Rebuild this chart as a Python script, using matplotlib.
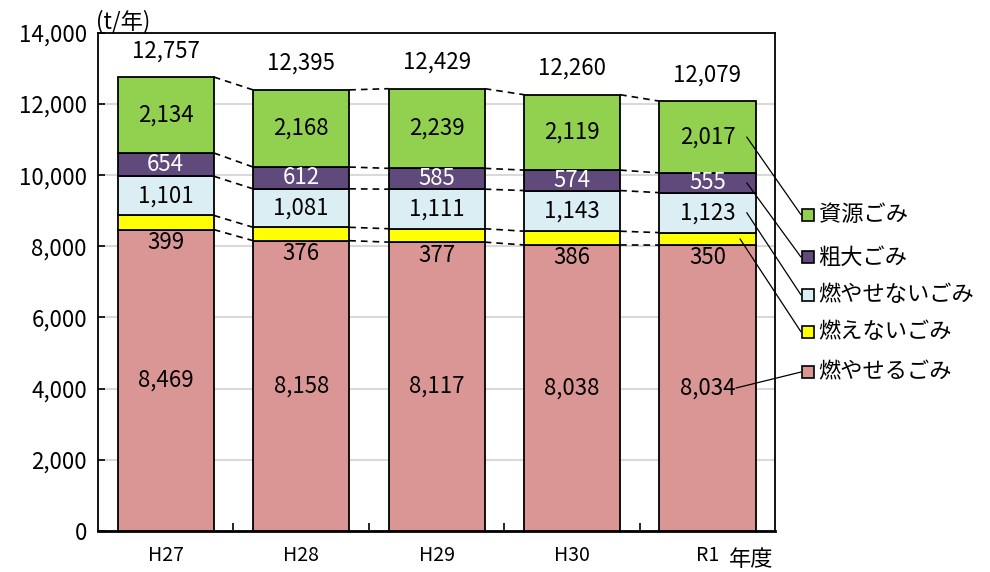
import numpy as np
import matplotlib.pyplot as plt

plt.rcParams['font.family'] = ['Noto Sans CJK JP', 'DejaVu Sans']

# data (t/年)
years = ['H27', 'H28', 'H29', 'H30', 'R1']
moyaseru = [8469, 8158, 8117, 8038, 8034]     # 燃やせるごみ
moenai = [399, 376, 377, 386, 350]            # 燃えないごみ
moyasenai = [1101, 1081, 1111, 1143, 1123]    # 燃やせないごみ
sodai = [654, 612, 585, 574, 555]             # 粗大ごみ
shigen = [2134, 2168, 2239, 2119, 2017]       # 資源ごみ

names = ['燃やせるごみ', '燃えないごみ', '燃やせないごみ', '粗大ごみ', '資源ごみ']
colors = ['#D99694', '#FFFF00', '#DAEEF3', '#604A7B', '#92D050']
series = [moyaseru, moenai, moyasenai, sodai, shigen]

fig = plt.figure(figsize=(9.9, 5.72), dpi=100)
ax = fig.add_axes([0.099, 0.0717, 0.684, 0.871])

x = np.arange(len(years))
w = 0.71
bottom = np.zeros(len(years))
tops = []
for vals, c in zip(series, colors):
    v = np.array(vals)
    ax.bar(x, v, w, bottom=bottom, color=c, edgecolor='black', linewidth=1.3, zorder=3)
    bottom = bottom + v
    tops.append(bottom.copy())

# dashed connectors between bars
for lev in tops:
    for i in range(len(years) - 1):
        ax.plot([i + w / 2, i + 1 - w / 2], [lev[i], lev[i + 1]], ls=(0, (4, 3)),
                color='black', lw=1.2, zorder=2)

# value labels
fs = 16
base = np.zeros(len(years))
label_pos = []
for k, vals in enumerate(series):
    v = np.array(vals)
    ys = []
    for i in range(len(years)):
        txt = f'{vals[i]:,}'
        if k == 1:
            ax.annotate(txt, (i, base[i]), xytext=(0, -1), textcoords='offset points',
                        ha='center', va='top', fontsize=fs, zorder=4)
        else:
            ax.text(i, base[i] + v[i] / 2, txt, ha='center', va='center', fontsize=fs,
                    color='white' if k == 3 else 'black', zorder=4)
        ys.append(base[i] + v[i] / 2)
    label_pos.append(ys)
    base = base + v

total = tops[-1]
for i in range(len(years)):
    ax.annotate(f'{int(total[i]):,}', (i, total[i]), xytext=(0, 19), textcoords='offset points',
                ha='center', va='center', fontsize=fs)

# legend with leader lines
leg_y = [0.319, 0.400, 0.474, 0.550, 0.635]
start_dx = [0.21, 0.24, 0.29, 0.29, 0.29]
last = len(years) - 1
for k in range(len(series)):
    ax.plot([1.049], [leg_y[k]], marker='s', ms=9, mfc=colors[k], mec='black', mew=1.2,
            transform=ax.transAxes, clip_on=False)
    ax.text(1.064, leg_y[k], names[k], transform=ax.transAxes, ha='left', va='center',
            fontsize=fs)
    ax.annotate('', xy=(1.038, leg_y[k]), xycoords='axes fraction',
                xytext=(last + start_dx[k], label_pos[k][last]), textcoords='data',
                arrowprops=dict(arrowstyle='-', color='black', lw=0.9,
                                shrinkA=0, shrinkB=0), annotation_clip=False)

ax.set_xlim(-0.5, 4.5)
ax.set_ylim(0, 14000)
ax.set_yticks(np.arange(0, 14001, 2000))
ax.set_yticklabels([f'{t:,}' for t in range(0, 14001, 2000)], fontsize=fs)
ax.set_xticks(x)
ax.set_xticklabels(years, fontsize=14)
ax.set_xticks(np.arange(0.5, 4.5, 1), minor=True)
ax.tick_params(axis='x', which='major', length=0, pad=10)
ax.tick_params(axis='x', which='minor', direction='in', length=6, width=1.2)
ax.tick_params(axis='y', direction='in', length=5, width=1.2, pad=8)
ax.grid(axis='y', color='#d9d9d9', lw=1.5, zorder=0)
ax.set_axisbelow(True)
for s in ax.spines.values():
    s.set_linewidth(1.3)
ax.spines['bottom'].set_linewidth(2)

fig.text(0.097, 0.963, '(t/年)', fontsize=fs, ha='left', va='center')
fig.text(0.736, 0.022, '年度', fontsize=fs, ha='left', va='center')

fig.savefig('out.png', dpi=100)
